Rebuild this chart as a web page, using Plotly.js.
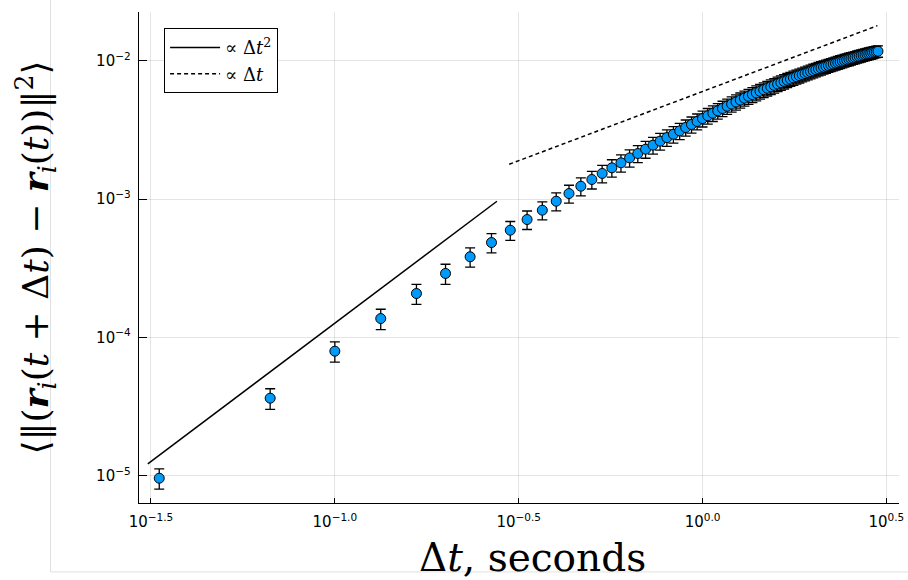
<!DOCTYPE html>
<html>
<head>
<meta charset="utf-8">
<script src="https://cdn.plot.ly/plotly-3.0.1.min.js"></script>
<style>html,body{margin:0;padding:0;background:#fff;}#chart{width:908px;height:580px;}</style>
</head>
<body>
<div id="chart"></div>
<script>
// Lag times Δt (seconds)
const dt = [
  0.0333,0.0667,0.1,0.1333,0.1667,0.2,0.2333,0.2667,0.3,0.3333,
  0.3667,0.4,0.4333,0.4667,0.5,0.5333,0.5667,0.6,0.6333,0.6667,
  0.7,0.7333,0.7667,0.8,0.8333,0.8667,0.9,0.9333,0.9667,1.0,
  1.0333,1.0667,1.1,1.1333,1.1667,1.2,1.2333,1.2667,1.3,1.3333,
  1.3667,1.4,1.4333,1.4667,1.5,1.5333,1.5667,1.6,1.6333,1.6667,
  1.7,1.7333,1.7667,1.8,1.8333,1.8667,1.9,1.9333,1.9667,2.0,
  2.0333,2.0667,2.1,2.1333,2.1667,2.2,2.2333,2.2667,2.3,2.3333,
  2.3667,2.4,2.4333,2.4667,2.5,2.5333,2.5667,2.6,2.6333,2.6667,
  2.7,2.7333,2.7667,2.8,2.8333,2.8667,2.9,2.9333,2.9667,3.0
];
// Mean squared displacement (×10⁻³)
const msdMilli = [
  0.0096,0.0364,0.0796,0.1371,0.208,0.2905,0.3835,0.486,0.597,0.713,
  0.833,0.967,1.099,1.242,1.389,1.536,1.686,1.834,1.99,2.14,
  2.30,2.46,2.63,2.79,2.95,3.12,3.30,3.47,3.65,3.83,
  4.012,4.187,4.361,4.533,4.705,4.875,5.044,5.212,5.379,5.545,
  5.709,5.871,6.032,6.191,6.349,6.505,6.659,6.812,6.963,7.112,
  7.260,7.406,7.550,7.692,7.833,7.972,8.109,8.245,8.378,8.510,
  8.641,8.770,8.897,9.023,9.147,9.269,9.390,9.509,9.627,9.741,
  9.857,9.970,10.08,10.19,10.30,10.40,10.51,10.61,10.72,10.82,
  10.92,11.02,11.11,11.21,11.30,11.40,11.49,11.58,11.67,11.75
];
// Error bar half-heights (×10⁻³)
const errMilli = [
  0.0016,0.0062,0.0133,0.023,0.0345,0.048,0.061,0.077,0.093,0.109,
  0.125,0.144,0.163,0.183,0.203,0.223,0.243,0.262,0.283,0.302,
  0.322,0.342,0.363,0.382,0.401,0.421,0.442,0.462,0.482,0.502,
  0.519,0.539,0.560,0.579,0.598,0.617,0.635,0.654,0.671,0.689,
  0.706,0.722,0.739,0.755,0.770,0.785,0.800,0.815,0.829,0.842,
  0.855,0.868,0.881,0.893,0.905,0.916,0.927,0.938,0.948,0.958,
  0.968,0.977,0.987,0.995,1.003,1.011,1.019,1.027,1.034,1.040,
  1.047,1.053,1.059,1.065,1.070,1.074,1.079,1.084,1.089,1.093,
  1.096,1.100,1.103,1.106,1.109,1.112,1.113,1.116,1.118,1.119
];
// Guide lines (end points)
const quadX = [0.031, 0.276];
const quadY = [1.22e-5, 9.67e-4];
const linX = [0.298, 2.99];
const linY = [1.79e-3, 1.80e-2];
// Tick labels and titles
const xTickVals = [Math.pow(10,-1.5), 0.1, Math.pow(10,-0.5), 1, Math.pow(10,0.5)];
const xTickText = ['10<sup>−1.5</sup>','10<sup>−1.0</sup>','10<sup>−0.5</sup>','10<sup>0.0</sup>','10<sup>0.5</sup>'];
const yTickVals = [1e-5, 1e-4, 1e-3, 1e-2];
const yTickText = ['10<sup>−5</sup>','10<sup>−4</sup>','10<sup>−3</sup>','10<sup>−2</sup>'];
const xTitle = 'Δ<i>t</i>, seconds';
const yTitle = '⟨‖(<b><i>r</i></b><sub><i>i</i></sub>(<i>t</i> + Δ<i>t</i>) − <b><i>r</i></b><sub><i>i</i></sub>(<i>t</i>))‖<sup>2</sup>⟩';

const msd = msdMilli.map(v => v * 1e-3);
const err = errMilli.map(v => v * 1e-3);

const serif = 'DejaVu Serif, Liberation Serif, serif';
const sans = 'DejaVu Sans, sans-serif';

const traces = [
  {
    x: quadX, y: quadY, mode: 'lines', type: 'scatter',
    name: '∝ Δ<i>t</i><sup>2</sup>',
    line: {color: '#000', width: 1.5}
  },
  {
    x: linX, y: linY, mode: 'lines', type: 'scatter',
    name: '∝ Δ<i>t</i>',
    line: {color: '#000', width: 1.5, dash: '4px,3px'}
  },
  {
    x: dt, y: msd, mode: 'markers', type: 'scatter', showlegend: false,
    marker: {color: '#009afa', size: 10, line: {color: '#000', width: 1}},
    error_y: {type: 'data', array: err, visible: true, color: '#000', thickness: 1.3, width: 5}
  }
];

const layout = {
  width: 908, height: 580,
  margin: {l: 139, r: 9, t: 12, b: 77},
  paper_bgcolor: '#fff', plot_bgcolor: '#fff',
  showlegend: true,
  legend: {
    x: 0.033, y: 0.967, xanchor: 'left', yanchor: 'top',
    bgcolor: '#fff', bordercolor: '#000', borderwidth: 1,
    font: {family: serif, size: 18, color: '#000'},
    itemwidth: 50
  },
  xaxis: {
    type: 'log', range: [-1.5326, 0.5343],
    tickmode: 'array', tickvals: xTickVals, ticktext: xTickText,
    ticks: 'inside', ticklen: 5, tickcolor: '#000', tickwidth: 1,
    ticklabelstandoff: 5,
    showline: true, linecolor: '#000', linewidth: 1.3, mirror: false,
    showgrid: true, gridcolor: 'rgba(0,0,0,0.1)', gridwidth: 1,
    zeroline: false,
    tickfont: {family: sans, size: 15, color: '#000'}
  },
  yaxis: {
    type: 'log', range: [-5.197, -1.646],
    tickmode: 'array', tickvals: yTickVals, ticktext: yTickText,
    ticks: 'inside', ticklen: 8, tickcolor: '#000', tickwidth: 1,
    ticklabelstandoff: 4,
    showline: true, linecolor: '#000', linewidth: 1.3, mirror: false,
    showgrid: true, gridcolor: 'rgba(0,0,0,0.1)', gridwidth: 1,
    zeroline: false,
    tickfont: {family: sans, size: 15, color: '#000'},
    title: {text: yTitle, font: {family: serif, size: 36, color: '#000'}, standoff: 36}
  },
  annotations: [
    {text: xTitle, xref: 'paper', yref: 'paper', x: 0.518, y: -0.156,
     xanchor: 'center', yanchor: 'bottom', yshift: -2, showarrow: false,
     font: {family: serif, size: 39, color: '#000'}}
  ],
  shapes: [
    {type: 'line', xref: 'paper', yref: 'paper', x0: -0.1164, x1: -0.1164, y0: -0.1404, y1: 1.03,
     line: {color: '#e0e0e0', width: 1}, layer: 'below'},
    {type: 'line', xref: 'paper', yref: 'paper', x0: -0.1164, x1: 1.02, y0: -0.1404, y1: -0.1404,
     line: {color: '#e0e0e0', width: 1}, layer: 'below'}
  ]
};

Plotly.newPlot('chart', traces, layout, {displayModeBar: false, staticPlot: true});
</script>
</body>
</html>
